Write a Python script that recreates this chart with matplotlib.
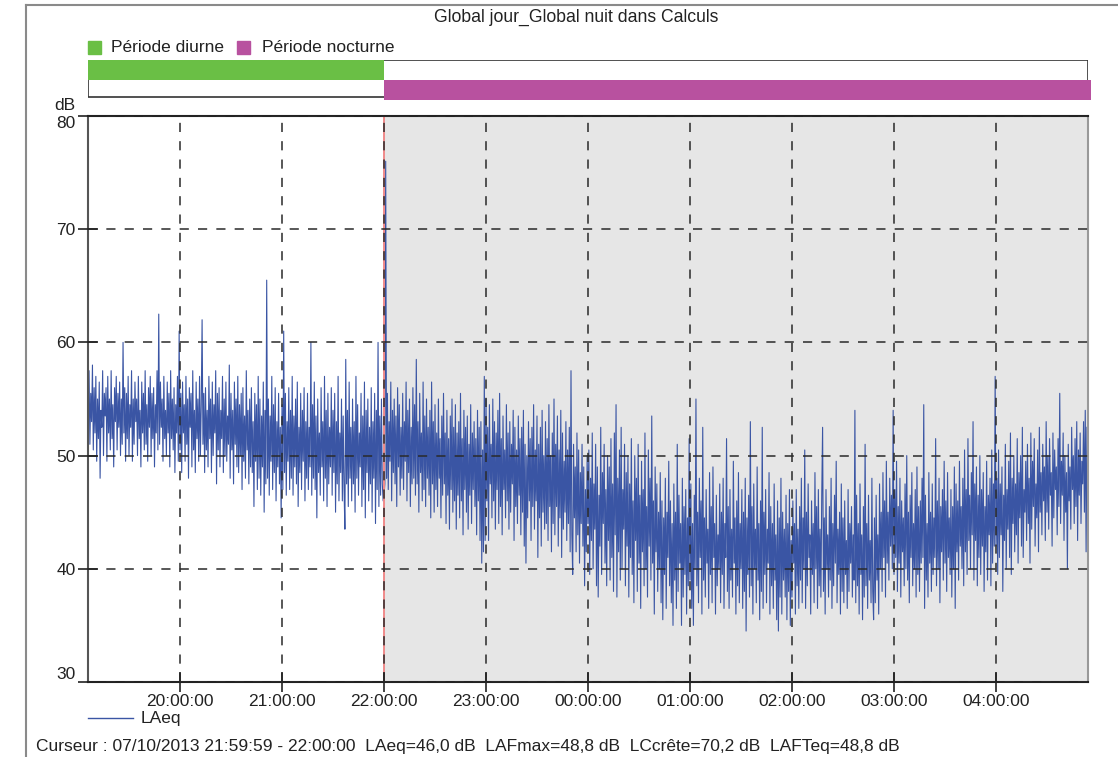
import numpy as np
import pandas as pd
import matplotlib
matplotlib.use('Agg')
import matplotlib.pyplot as plt
import matplotlib.dates as mdates
from matplotlib.lines import Line2D
from matplotlib.patches import Rectangle

plt.rcParams['font.family'] = ['Liberation Sans', 'DejaVu Sans']

# LAeq, pas de 30 s (une liste par heure)
la_19 = [52.5, 57.5, 51.0, 55.5, 53.0, 58.0, 50.5, 56.0, 52.0, 57.0, 49.5, 55.0,
         51.5, 56.5, 48.0, 54.0, 52.5, 57.5, 50.0, 55.5, 53.5, 56.0, 49.5, 57.0,
         52.0, 55.0, 50.5, 57.5, 51.5, 54.5, 49.0, 56.0, 53.0, 57.0, 50.5, 55.5,
         52.5, 56.5, 50.0, 55.0, 51.0, 60.0, 52.0, 56.0, 49.5, 55.5, 51.5, 57.0,
         50.0, 54.5, 52.5, 57.5, 49.5, 55.0, 51.0, 56.5, 53.0, 55.0, 50.0, 57.0,
         51.5, 54.0, 49.0, 56.5, 52.0, 55.5, 50.5, 57.5, 51.0, 54.5, 49.5, 56.0,
         52.5, 57.0, 50.0, 55.5, 51.5, 56.0, 49.0, 54.5, 52.0, 57.5, 50.5, 62.5,
         51.0, 56.5, 52.5, 55.0, 49.5, 57.0, 51.5, 54.0, 50.0, 56.5, 52.0, 55.5,
         49.0, 57.5, 51.5, 55.0, 50.5, 56.0, 48.5, 54.5, 52.0, 57.0, 49.5, 61.0]
la_20 = [50.5, 55.5, 48.5, 56.5, 52.0, 54.5, 49.5, 57.0, 51.0, 55.0, 48.0, 56.0,
         52.5, 55.5, 49.0, 57.5, 50.5, 54.0, 48.5, 56.5, 51.5, 55.0, 49.5, 57.0,
         50.0, 54.5, 62.0, 51.0, 55.5, 48.5, 56.0, 50.5, 54.0, 49.0, 57.0, 51.5,
         55.0, 48.5, 56.5, 50.0, 54.5, 52.0, 57.5, 47.5, 55.5, 50.5, 56.0, 49.0,
         54.0, 51.5, 57.0, 48.5, 55.0, 50.0, 56.5, 49.5, 53.5, 51.0, 58.0, 48.0,
         55.5, 50.5, 54.0, 47.5, 56.5, 51.0, 55.0, 49.0, 57.0, 48.5, 54.5, 50.0,
         55.5, 47.0, 56.0, 49.5, 53.5, 48.0, 57.5, 50.5, 54.0, 47.5, 55.0, 49.0,
         56.0, 48.5, 53.0, 45.5, 55.5, 49.5, 54.5, 47.0, 57.0, 48.0, 55.0, 46.5,
         53.5, 49.0, 56.5, 45.0, 54.0, 47.5, 65.5, 48.0, 55.0, 46.5, 53.5, 49.5,
         57.0, 47.0, 54.5, 48.5, 56.0, 46.0, 53.0, 49.0, 55.5, 47.5, 52.5, 44.5]
la_21 = [54.5, 47.0, 61.0, 48.5, 55.5, 46.5, 53.0, 49.5, 56.0, 47.0, 54.0, 48.0,
         57.0, 46.5, 53.5, 49.0, 55.0, 47.5, 56.5, 45.5, 52.5, 48.5, 55.5, 47.0,
         54.0, 49.5, 56.0, 46.0, 53.0, 48.0, 55.5, 47.0, 52.5, 49.0, 60.0, 46.5,
         54.5, 48.0, 56.5, 47.0, 53.5, 44.5, 55.0, 48.5, 52.0, 46.5, 56.0, 49.0,
         53.0, 46.0, 57.0, 48.0, 54.0, 45.5, 55.5, 47.5, 52.5, 49.0, 56.0, 46.5,
         54.0, 48.5, 55.5, 45.0, 53.0, 47.5, 57.0, 46.0, 52.0, 48.5, 55.0, 46.0,
         53.5, 47.0, 43.5, 58.5, 47.5, 54.0, 45.5, 56.5, 48.0, 52.5, 46.0, 55.0,
         47.5, 53.0, 45.0, 57.0, 48.0, 54.5, 46.5, 52.0, 49.0, 55.5, 45.5, 53.5,
         47.0, 56.5, 44.5, 54.0, 48.5, 55.0, 46.0, 52.5, 47.5, 56.0, 45.0, 53.0,
         48.0, 55.5, 44.0, 54.0, 47.0, 60.0, 45.5, 53.5, 46.5, 55.0, 47.5, 46.0]
la_22 = [46.5, 47.5, 76.0, 48.0, 55.5, 47.0, 53.0, 49.5, 56.5, 46.0, 54.0, 48.5,
         55.0, 47.5, 53.5, 45.5, 56.0, 49.0, 54.5, 46.5, 52.5, 48.0, 55.5, 47.0,
         53.0, 49.5, 56.5, 46.0, 54.0, 48.5, 55.0, 45.5, 52.5, 47.5, 56.0, 48.0,
         54.5, 46.5, 58.5, 47.5, 53.0, 45.0, 55.5, 48.5, 52.0, 46.0, 56.5, 47.0,
         53.5, 45.5, 55.0, 48.0, 52.5, 46.5, 54.0, 44.5, 56.5, 47.5, 53.0, 45.0,
         54.5, 47.0, 52.0, 45.5, 55.0, 48.0, 51.5, 44.5, 53.5, 46.5, 55.5, 47.5,
         52.0, 44.0, 54.0, 46.5, 51.5, 43.5, 53.5, 47.0, 55.0, 45.0, 52.5, 46.0,
         54.5, 43.5, 52.0, 46.5, 53.0, 44.5, 55.5, 46.0, 51.5, 43.0, 54.0, 47.0,
         52.5, 45.0, 53.5, 43.5, 51.0, 46.5, 54.5, 44.0, 52.0, 47.0, 53.0, 45.5,
         51.5, 43.0, 54.0, 46.0, 52.5, 42.5, 53.0, 40.5, 50.5, 41.5, 57.0, 42.5]
la_23 = [55.0, 46.0, 52.5, 42.5, 54.5, 47.5, 51.0, 44.5, 55.0, 46.0, 53.0, 43.5,
         52.0, 47.0, 54.0, 44.0, 55.5, 45.5, 51.5, 43.0, 53.5, 47.0, 50.5, 44.5,
         54.5, 46.0, 52.0, 43.5, 53.0, 45.0, 51.0, 47.5, 54.0, 42.5, 52.5, 45.5,
         50.5, 44.0, 53.5, 46.5, 51.5, 43.0, 52.5, 45.0, 54.0, 42.0, 51.0, 40.5,
         50.0, 44.5, 53.0, 46.0, 51.5, 42.5, 52.5, 45.5, 54.5, 43.5, 50.5, 46.0,
         53.5, 41.0, 51.0, 44.5, 52.5, 42.0, 54.0, 45.0, 50.0, 43.5, 53.0, 44.0,
         51.5, 42.5, 54.5, 45.5, 50.0, 41.5, 52.0, 44.0, 55.0, 43.0, 51.0, 45.5,
         53.5, 42.0, 50.5, 44.5, 54.0, 41.0, 52.0, 43.5, 49.5, 45.0, 53.0, 42.5,
         50.5, 44.0, 52.5, 41.5, 57.5, 43.0, 39.5, 51.0, 44.5, 49.0, 41.5, 52.0,
         43.0, 50.5, 40.5, 48.5, 44.0, 51.0, 42.0, 49.0, 38.5, 47.0, 41.5, 50.0]
la_00 = [44.0, 50.5, 39.5, 48.0, 42.5, 52.0, 40.0, 47.5, 43.5, 51.0, 38.5, 49.0,
         37.5, 46.5, 42.0, 52.5, 39.5, 48.5, 44.0, 51.0, 40.5, 47.0, 38.5, 50.0,
         42.5, 49.0, 39.0, 51.5, 41.0, 47.5, 38.0, 52.0, 43.0, 54.5, 37.5, 48.0,
         41.5, 50.5, 39.0, 52.5, 40.0, 47.0, 43.5, 51.0, 38.5, 48.5, 42.0, 50.0,
         37.5, 47.5, 41.0, 51.5, 39.5, 46.0, 37.0, 50.0, 42.5, 48.0, 38.0, 51.0,
         40.5, 46.5, 36.5, 49.5, 41.5, 47.0, 38.5, 52.0, 40.0, 45.5, 37.5, 50.5,
         42.0, 48.0, 39.0, 53.5, 40.5, 46.0, 36.0, 49.0, 41.5, 47.5, 38.0, 45.0,
         40.0, 48.5, 37.0, 46.0, 35.5, 44.5, 39.5, 48.0, 36.5, 45.0, 41.0, 49.5,
         38.5, 46.0, 37.0, 44.0, 35.0, 47.5, 39.0, 45.0, 36.5, 51.0, 38.0, 46.5,
         40.5, 44.0, 35.0, 48.0, 37.5, 45.5, 39.5, 47.0, 36.0, 44.5, 38.5, 51.5]
la_01 = [39.0, 47.5, 36.5, 44.0, 35.0, 46.5, 40.0, 55.0, 38.5, 45.0, 37.0, 48.0,
         41.0, 46.0, 36.0, 52.5, 39.0, 44.5, 37.5, 47.0, 40.5, 43.5, 36.5, 48.5,
         39.5, 45.5, 37.0, 49.0, 41.0, 44.0, 36.0, 46.5, 38.5, 43.0, 40.0, 47.5,
         37.0, 45.0, 39.5, 48.0, 36.5, 44.0, 41.0, 51.5, 38.0, 45.5, 36.5, 47.0,
         39.0, 43.5, 37.5, 49.5, 40.5, 44.5, 36.0, 46.0, 38.5, 48.5, 37.0, 44.0,
         40.0, 47.0, 36.5, 45.0, 38.0, 48.0, 34.5, 44.5, 39.5, 46.5, 37.5, 53.0,
         38.5, 45.5, 36.0, 47.5, 40.0, 43.5, 37.0, 49.0, 39.0, 44.0, 35.5, 46.0,
         38.0, 52.5, 36.5, 45.0, 39.5, 47.0, 37.0, 43.5, 40.5, 48.5, 36.0, 45.5,
         38.5, 44.0, 36.5, 47.5, 39.0, 43.0, 35.5, 46.0, 34.5, 44.5, 37.5, 48.0,
         36.0, 45.0, 39.0, 43.5, 37.5, 46.5, 35.5, 44.0, 38.0, 47.0, 35.0, 42.5]
la_02 = [37.5, 46.0, 40.5, 44.0, 36.0, 47.0, 38.5, 43.5, 36.5, 45.5, 39.0, 48.0,
         37.0, 44.5, 40.0, 50.5, 36.5, 45.0, 38.5, 47.5, 41.0, 43.0, 36.0, 46.0,
         39.5, 44.0, 37.0, 48.5, 40.0, 45.5, 36.5, 47.0, 38.5, 43.5, 37.5, 46.5,
         52.5, 38.0, 44.5, 36.0, 47.0, 40.0, 43.0, 37.5, 45.5, 39.0, 48.0, 36.5,
         44.0, 38.5, 46.5, 40.5, 49.5, 37.0, 43.5, 39.5, 45.0, 36.0, 47.5, 38.0,
         44.5, 37.0, 46.0, 39.5, 42.5, 36.5, 47.0, 38.0, 44.0, 40.5, 45.5, 37.5,
         43.0, 39.0, 54.0, 37.0, 46.5, 38.5, 44.0, 36.0, 47.5, 39.5, 43.0, 35.5,
         45.5, 37.5, 51.0, 38.5, 44.0, 36.5, 46.5, 39.0, 42.5, 37.0, 48.0, 38.0,
         35.5, 44.5, 37.0, 46.5, 39.0, 43.0, 36.0, 47.5, 40.0, 45.0, 38.0, 48.5,
         41.0, 46.0, 37.5, 49.5, 40.5, 45.0, 39.0, 48.0, 42.0, 46.5, 40.0, 54.0]
la_03 = [39.5, 47.0, 41.0, 49.5, 38.0, 45.5, 40.5, 48.0, 37.5, 46.0, 41.5, 44.5,
         38.5, 47.5, 40.0, 50.0, 39.0, 45.0, 37.0, 46.5, 41.0, 48.5, 38.5, 44.0,
         40.0, 47.0, 37.5, 49.0, 39.5, 45.5, 38.0, 46.0, 40.5, 48.0, 41.0, 54.5,
         36.5, 46.5, 39.0, 44.0, 37.5, 48.5, 40.5, 45.0, 38.0, 47.5, 39.5, 44.5,
         41.0, 51.5, 38.5, 46.0, 40.0, 48.0, 37.0, 45.5, 41.5, 47.0, 39.0, 49.5,
         40.5, 46.0, 38.0, 48.5, 41.0, 44.5, 39.5, 47.0, 37.5, 45.5, 40.0, 49.0,
         36.5, 47.5, 41.5, 46.0, 39.0, 49.5, 42.0, 45.5, 40.0, 48.0, 38.5, 50.5,
         41.5, 47.0, 39.5, 51.5, 42.5, 46.5, 40.0, 48.5, 43.0, 53.0, 39.0, 47.5,
         42.5, 49.0, 38.5, 46.5, 41.0, 50.0, 39.5, 47.0, 42.0, 48.5, 38.0, 45.5,
         41.5, 49.5, 39.0, 46.5, 43.0, 48.0, 38.5, 50.5, 40.5, 47.5, 42.0, 57.0]
la_04 = [42.0, 48.0, 39.5, 50.5, 41.0, 47.5, 43.0, 49.0, 38.0, 46.5, 42.5, 51.0,
         40.0, 47.0, 43.5, 49.5, 41.0, 52.0, 39.5, 48.0, 44.0, 50.0, 41.5, 47.5,
         43.0, 51.5, 40.5, 48.5, 44.5, 50.0, 42.0, 52.5, 41.0, 47.0, 45.0, 49.5,
         42.5, 51.0, 44.0, 48.0, 40.5, 52.0, 43.5, 49.5, 45.5, 51.5, 42.0, 47.5,
         44.5, 50.5, 41.5, 52.5, 45.0, 48.5, 43.0, 51.0, 46.0, 49.0, 42.5, 53.0,
         45.0, 50.0, 43.5, 51.5, 46.5, 48.5, 42.0, 52.0, 44.5, 50.5, 47.0, 49.0,
         43.0, 51.5, 45.5, 55.5, 44.0, 49.5, 46.5, 52.0, 42.5, 50.0, 45.0, 48.5,
         40.0, 51.0, 46.0, 49.0, 43.5, 52.5, 47.0, 50.0, 44.0, 51.5, 45.5, 53.0,
         42.5, 50.5, 46.5, 52.0, 44.0, 49.5, 47.5, 53.0, 45.0, 54.0, 41.5, 52.5]

# début de chaque liste
seg_starts = ['2013-10-07 19:06', '2013-10-07 20:00', '2013-10-07 21:00',
              '2013-10-07 22:00', '2013-10-07 23:00', '2013-10-08 00:00',
              '2013-10-08 01:00', '2013-10-08 02:00', '2013-10-08 03:00',
              '2013-10-08 04:00']
segments = [la_19, la_20, la_21, la_22, la_23, la_00, la_01, la_02, la_03, la_04]

hour_ticks = ['2013-10-07 20:00', '2013-10-07 21:00', '2013-10-07 22:00',
              '2013-10-07 23:00', '2013-10-08 00:00', '2013-10-08 01:00',
              '2013-10-08 02:00', '2013-10-08 03:00', '2013-10-08 04:00']
y_ticks = [30, 40, 50, 60, 70, 80]

t_start = pd.Timestamp('2013-10-07 19:05:53')
t_end = pd.Timestamp('2013-10-08 04:54:07')
night_start = pd.Timestamp('2013-10-07 22:00')

times = pd.DatetimeIndex(np.concatenate(
    [pd.date_range(s, periods=len(v), freq='30s').values for s, v in zip(seg_starts, segments)]))
laeq = np.concatenate([np.array(v) for v in segments])

W, H = 1118, 757
FS = 12.5
fig = plt.figure(figsize=(W / 100, H / 100), dpi=100)

# cadre extérieur
fig.add_artist(Line2D([26 / W, 26 / W], [0, 1 - 5 / H], color='#8a8a8a', lw=1.5))
fig.add_artist(Line2D([26 / W, 1], [1 - 5 / H, 1 - 5 / H], color='#8a8a8a', lw=1.5))

fig.text(576 / W, 1 - 17 / H, 'Global jour_Global nuit dans Calculs',
         ha='center', va='center', fontsize=12.7, color='#222')

# légende des périodes
green = '#6abf45'
magenta = '#b8519f'
fig.add_artist(Rectangle((88 / W, 1 - 54 / H), 13 / W, 13 / H, color=green))
fig.text(111 / W, 1 - 48 / H, 'Période diurne', va='center', fontsize=FS, color='#222')
fig.add_artist(Rectangle((237 / W, 1 - 54 / H), 13 / W, 13 / H, color=magenta))
fig.text(262 / W, 1 - 48 / H, 'Période nocturne', va='center', fontsize=FS, color='#222')

# bandeau des périodes
x0, x1, xn = mdates.date2num(t_start), mdates.date2num(t_end), mdates.date2num(night_start)
pax = fig.add_axes([88 / W, 1 - 100 / H, 1000 / W, 40 / H])
pax.set_xlim(x0, x1)
pax.set_ylim(0, 40)
pax.axis('off')
pax.add_patch(Rectangle((x0, 3), x1 - x0, 37, fill=False, edgecolor='#333', lw=1.2))
pax.add_patch(Rectangle((x0, 20), xn - x0, 20, color=green, lw=0))
ext = (x1 - x0) * 3 / 1000
pax.add_patch(Rectangle((xn, 0), x1 - xn + ext, 20, color=magenta, lw=0, clip_on=False))

# graphique principal
ax = fig.add_axes([88 / W, 1 - 682 / H, 1000 / W, 566 / H])
ax.axvspan(night_start, t_end, color='#e6e6e6', lw=0, zorder=0)
ax.plot(times, laeq, color='#3a55a4', lw=0.8, zorder=2)
ax.axvline(night_start, color='#f08a8a', lw=1.4, zorder=2.2)
ax.set_xlim(t_start, t_end)
ax.set_ylim(30, 80)
ax.set_yticks(y_ticks)
ax.set_xticks(pd.to_datetime(hour_ticks))
ax.xaxis.set_major_formatter(mdates.DateFormatter('%H:%M:%S'))
ax.grid(True, color='#2a2a2a', ls=(0, (6, 6)), lw=1.1)
ax.set_axisbelow(False)
ax.tick_params(direction='inout', length=14, width=1.2, labelsize=FS, colors='#222', pad=2)
for side, c in [('left', '#555'), ('top', '#222'), ('bottom', '#222'), ('right', '#999')]:
    ax.spines[side].set_color(c)
    ax.spines[side].set_linewidth(1.5)

# libellés extrêmes ramenés à l'intérieur
ylabels = ax.get_yticklabels()
ylabels[0].set_va('bottom')
ylabels[-1].set_va('top')

fig.text(75 / W, 1 - 106 / H, 'dB', ha='right', va='center', fontsize=FS, color='#222')

# légende du bas
fig.add_artist(Line2D([88 / W, 133 / W], [1 - 718 / H, 1 - 718 / H], color='#3a55a4', lw=1.0))
fig.text(141 / W, 1 - 718 / H, 'LAeq', va='center', fontsize=FS, color='#222')
fig.text(36 / W, 1 - 747 / H,
         'Curseur : 07/10/2013 21:59:59 - 22:00:00  LAeq=46,0 dB  LAFmax=48,8 dB  '
         'LCcrête=70,2 dB  LAFTeq=48,8 dB',
         va='center', fontsize=FS, color='#222')

fig.savefig('out.png', dpi=100)
